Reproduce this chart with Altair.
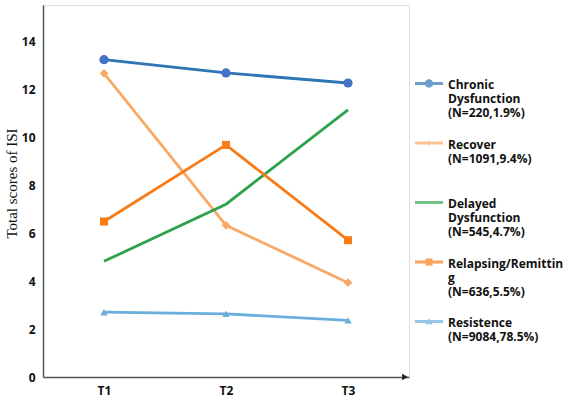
import altair as alt
import pandas as pd

# ---------------- data ----------------
times = ["T1", "T2", "T3"]
series = [
    "Chronic|Dysfunction|(N=220,1.9%)",
    "Recover|(N=1091,9.4%)| ",
    "Delayed|Dysfunction|(N=545,4.7%)",
    "Relapsing/Remittin|g|(N=636,5.5%)",
    "Resistence|(N=9084,78.5%)| ",
]
chronic = [13.22, 12.67, 12.25]
recover = [12.65, 6.32, 3.93]
delayed = [4.82, 7.2, 11.13]
relapsing = [6.48, 9.67, 5.7]
resistence = [2.7, 2.63, 2.36]
y_ticks = [0, 2, 4, 6, 8, 10, 12, 14]

# ---------------- styles ----------------
line_colors = ["#2E75B6", "#F9A965", "#2CA24A", "#F97B16", "#6AAEDC"]
point_colors = ["#4472C4", "#F9A965", "#F97B16", "#6AAEDC"]
point_shapes = ["circle", "diamond", "square", "triangle-up"]
point_sizes = [85, 55, 70, 80]
LINE = "M-1,0.15H1V0.35H-1Z "
legend_paths = [
    LINE + "M-0.3,0.25A0.3,0.3 0 1,1 0.3,0.25A0.3,0.3 0 1,1 -0.3,0.25Z",
    LINE + "M0,0.05L0.2,0.25L0,0.45L-0.2,0.25Z",
    LINE,
    LINE + "M-0.25,0H0.25V0.5H-0.25Z",
    LINE + "M0,0.02L0.27,0.45L-0.27,0.45Z",
]

rows = []
for name, vals in zip(series, [chronic, recover, delayed, relapsing, resistence]):
    for t, v in zip(times, vals):
        rows.append({"time": t, "series": name, "value": v})
df = pd.DataFrame(rows)

marker_series = [series[0], series[1], series[3], series[4]]

x_enc = alt.X(
    "time:N",
    scale=alt.Scale(type="point", padding=0.5),
    sort=times,
    axis=alt.Axis(
        title=None, labelAngle=0, ticks=False, grid=False,
        labelFont="Open Sans", labelFontWeight="bold", labelFontSize=12,
        labelColor="#111111", labelPadding=8,
        domainColor="#555555", domainWidth=1.5,
    ),
)
y_enc = alt.Y(
    "value:Q",
    scale=alt.Scale(domain=[0, 15.5], nice=False, zero=True),
    axis=alt.Axis(
        values=y_ticks, title="Total scores of ISI", ticks=False, grid=False,
        labelFont="Open Sans", labelFontWeight="bold", labelFontSize=12,
        labelColor="#111111", labelPadding=8,
        titleFont="Liberation Serif", titleFontWeight="normal", titleFontSize=15,
        titleColor="#111111", titleX=-24, titleY=178,
        domainColor="#555555", domainWidth=1.5,
    ),
)

lines = alt.Chart(df).mark_line(strokeWidth=2.8).encode(
    x=x_enc, y=y_enc,
    color=alt.Color("series:N", scale=alt.Scale(domain=series, range=line_colors), legend=None),
    detail="series:N",
)

points = alt.Chart(df).transform_filter(
    alt.FieldOneOfPredicate(field="series", oneOf=marker_series)
).mark_point(filled=True, opacity=1).encode(
    x=x_enc, y=y_enc,
    color=alt.Color("series:N", scale=alt.Scale(domain=marker_series, range=point_colors), legend=None),
    shape=alt.Shape("series:N", scale=alt.Scale(domain=marker_series, range=point_shapes), legend=None),
    size=alt.Size("series:N", scale=alt.Scale(domain=marker_series, range=point_sizes), legend=None),
)

leg = alt.Legend(
    title=None, orient="none", legendX=372, legendY=61,
    labelExpr="split(datum.label, '|')",
    labelBaseline="top", labelFont="Open Sans", labelFontWeight="bold",
    labelFontSize=12, labelColor="#111111", labelLimit=250, labelOffset=5,
    symbolSize=784, symbolStrokeWidth=0, rowPadding=6.5,
)

legend_layer = alt.Chart(df).transform_filter("false").mark_point(filled=True).encode(
    x=x_enc, y=y_enc,
    color=alt.Color("series:N", scale=alt.Scale(domain=series, range=line_colors), legend=leg),
    shape=alt.Shape("series:N", scale=alt.Scale(domain=series, range=legend_paths), legend=leg),
)

# arrowhead at the right end of the x axis
arrow = alt.Chart(pd.DataFrame({"a": [0]})).mark_point(
    shape="triangle-right", filled=True, color="#222222", opacity=1, size=45
).encode(x=alt.value(362), y=alt.value(372))

chart = alt.layer(lines, points, legend_layer, arrow).resolve_scale(
    color="independent", shape="independent"
).properties(
    width=366, height=372,
    autosize=alt.AutoSizeParams(type="none"),
    padding={"left": 43, "top": 5, "right": 158, "bottom": 24},
).configure_view(stroke=None).configure(background="white")

chart.save("out.html", embed_options={"renderer": "svg", "actions": False})
